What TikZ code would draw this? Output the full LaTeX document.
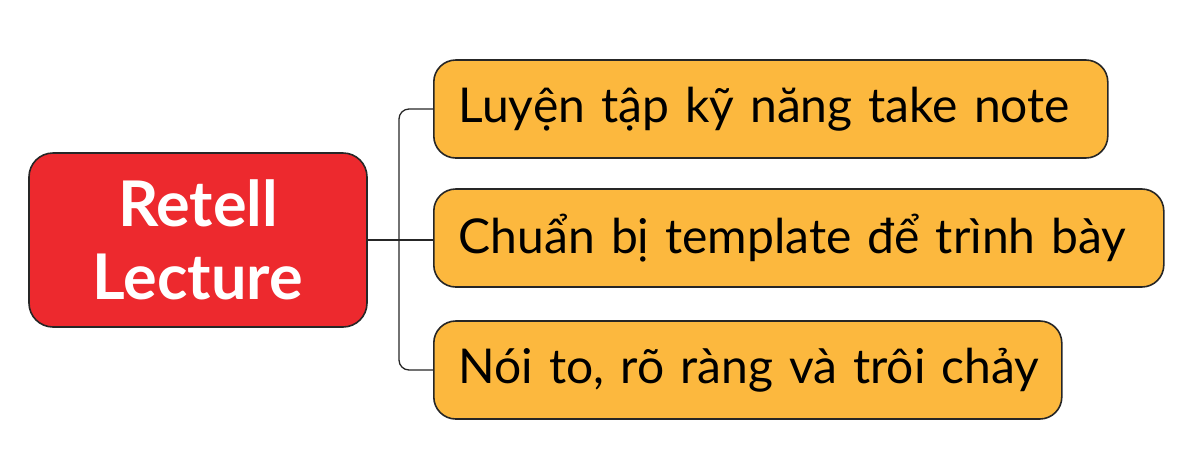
\documentclass[tikz,border=0pt]{standalone}
\usepackage{fontspec}
\setmainfont{Lato}
\definecolor{retellred}{RGB}{237,41,46}
\definecolor{noteorange}{RGB}{252,184,62}

\begin{document}
\begin{tikzpicture}[x=1pt,y=-1pt,
	topic/.style={draw=black!85,line width=1.6pt,fill=retellred,rounded corners=24pt,text=white,
		font=\fontsize{63}{73}\selectfont\bfseries,align=center,minimum width=338pt,minimum height=174pt},
	branch/.style={draw=black!85,line width=1.6pt,fill=noteorange,rounded corners=22pt,anchor=west,
		font=\fontsize{48}{50}\selectfont,minimum height=98pt,inner xsep=25pt,align=left}]

	\useasboundingbox (0,0) rectangle (1200,475);

	\node[topic] (retell) at (198,240) {Retell\\Lecture};

	\foreach \i/\y/\w/\t in {1/109/674/{Luyện tập kỹ năng take note},
		2/238/730/{Chuẩn bị template để trình bày},
		3/370/628/{Nói to, rõ ràng và trôi chảy}}
{
	\node[branch,text width=\w pt-50pt] (b\i) at (433,\y) {\mbox{\t}};
}

	\coordinate (spine) at (399,0);
	\draw[line width=1.3pt,black!85] (retell.east) -- (retell.east -| b2.west);
	\draw[line width=1.3pt,black!85,rounded corners=10pt] (b1.west) -- (b1.west -| spine) -- (b3.west -| spine) -- (b3.west);

\end{tikzpicture}
\end{document}
